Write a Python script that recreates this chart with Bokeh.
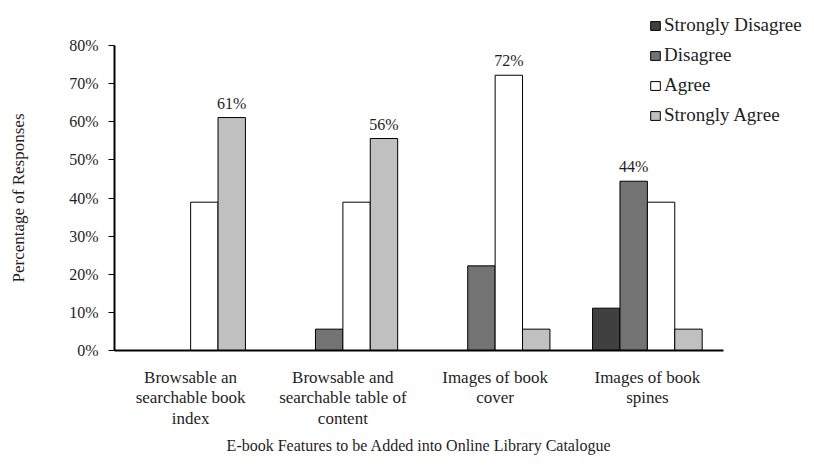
import math
from bokeh.plotting import figure
from bokeh.models import (ColumnDataSource, Range1d, FixedTicker,
                          NumeralTickFormatter, Legend, LegendItem, Label)
from bokeh.core.properties import value
from bokeh.embed import file_html
from bokeh.resources import INLINE

# ---- data ----
categories = [
    "Browsable an\nsearchable book\nindex",
    "Browsable and\nsearchable table of\ncontent",
    "Images of book\ncover",
    "Images of book\nspines",
]
series_names = ["Strongly Disagree", "Disagree", "Agree", "Strongly Agree"]
strongly_disagree = [0.0, 0.0, 0.0, 0.111]
disagree = [0.0, 0.056, 0.222, 0.444]
agree = [0.389, 0.389, 0.722, 0.389]
strongly_agree = [0.611, 0.556, 0.056, 0.056]
y_ticks = [0.0, 0.1, 0.2, 0.3, 0.4, 0.5, 0.6, 0.7, 0.8]
x_title = "E-book Features to be Added into Online Library Catalogue"
y_title = "Percentage of Responses"

series_values = [strongly_disagree, disagree, agree, strongly_agree]
colors = ["#404040", "#737373", "#ffffff", "#c0c0c0"]
offsets = [-0.27, -0.09, 0.09, 0.27]
FONT = "Liberation Serif"
TXT = "#1e1e1e"

n = len(categories)
centers = [i + 0.5 for i in range(n)]
keys = ["sd", "d", "a", "sa"]
data = {"center": centers}
for i, (k, vals) in enumerate(zip(keys, series_values)):
    data[k] = vals
    data[k + "_x"] = [c + offsets[i] for c in centers]
    labs = []
    for j in range(n):
        col = [series_values[s][j] for s in range(4)]
        labs.append(f"{round(vals[j] * 100)}%" if col.index(max(col)) == i else "")
    data[k + "_lab"] = labs
source = ColumnDataSource(data)

# layout in pixels: canvas 806x458, axes origin at (114, 350), 0.8 is 305px up,
# one category spans ~152px
W, H = 806, 458
OX, OY = 114, 350
PX_CAT = 152.25
PX_Y = 305 / 0.8
x_range = Range1d(-OX / PX_CAT, (W - OX) / PX_CAT)
y_range = Range1d(-(H - OY) / PX_Y, OY / PX_Y)

p = figure(x_range=x_range, y_range=y_range, frame_width=W, frame_height=H,
           output_backend="svg", toolbar_location=None)
p.min_border = 0
p.outline_line_color = None
p.xgrid.grid_line_color = None
p.ygrid.grid_line_color = None
p.background_fill_color = "white"
p.border_fill_color = "white"

items = []
for i, k in enumerate(keys):
    r = p.vbar(x=k + "_x", top=k, width=0.18, source=source,
               fill_color=colors[i], line_color="black", line_width=1)
    items.append(LegendItem(label=series_names[i], renderers=[r]))
    p.text(x=k + "_x", y=k, text=k + "_lab", source=source,
           text_align="center", text_baseline="bottom", y_offset=-6,
           text_font=value(FONT), text_font_size="16px", text_color=TXT)

legend = Legend(items=items, location=(649, H - 127), padding=0, margin=0,
                spacing=6, label_height=24, glyph_width=12, glyph_height=11,
                label_standoff=3, border_line_color=None, background_fill_alpha=0,
                label_text_font=FONT, label_text_font_size="19px",
                label_text_color=TXT)
p.add_layout(legend, "center")

# y axis, pinned at x = 0
p.yaxis.fixed_location = 0
p.yaxis.bounds = (0, 0.8)
p.yaxis.ticker = FixedTicker(ticks=y_ticks)
p.yaxis.formatter = NumeralTickFormatter(format="0%")
p.yaxis.axis_line_width = 2
p.yaxis.axis_line_color = "black"
p.yaxis.major_tick_line_color = "black"
p.yaxis.major_tick_out = 6
p.yaxis.major_tick_in = 0
p.yaxis.minor_tick_line_color = None
p.yaxis.major_label_standoff = 10
p.yaxis.major_label_text_font = FONT
p.yaxis.major_label_text_font_size = "16px"
p.yaxis.major_label_text_color = TXT

# x axis, pinned at y = 0
p.xaxis.fixed_location = 0
p.xaxis.bounds = (0, n)
p.xaxis.ticker = FixedTicker(ticks=centers)
p.xaxis.major_label_overrides = {c: lab for c, lab in zip(centers, categories)}
p.xaxis.axis_line_width = 2
p.xaxis.axis_line_color = "black"
p.xaxis.major_tick_line_color = None
p.xaxis.major_tick_out = 0
p.xaxis.major_tick_in = 0
p.xaxis.minor_tick_line_color = None
p.xaxis.major_label_standoff = 17
p.xaxis.major_label_text_font = FONT
p.xaxis.major_label_text_font_size = "17px"
p.xaxis.major_label_text_color = TXT
p.xaxis.major_label_text_line_height = 1.1

# axis titles, centred on the axis lines
p.add_layout(Label(x=n / 2, y=H - 445, y_units="screen", text=x_title,
                   text_align="center", text_baseline="middle",
                   text_font=FONT, text_font_size="16px", text_color=TXT))
p.add_layout(Label(x=18, x_units="screen", y=0.4, text=y_title, angle=math.pi / 2,
                   text_align="center", text_baseline="middle",
                   text_font=FONT, text_font_size="17px", text_color=TXT))

open("out.html", "w").write(file_html(p, INLINE))
